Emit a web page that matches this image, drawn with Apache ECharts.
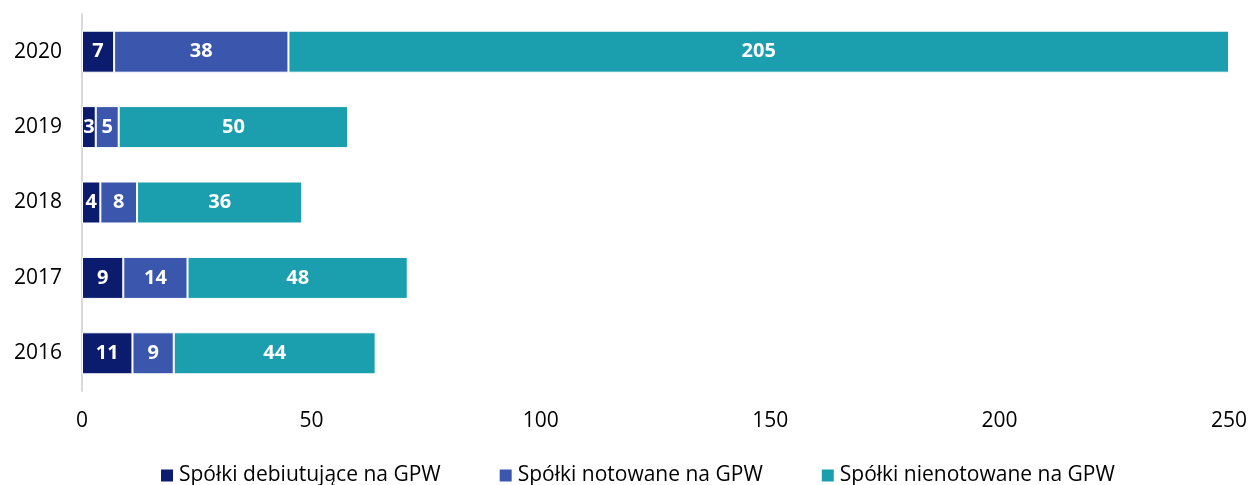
<!DOCTYPE html>
<html>
<head>
<meta charset="utf-8">
<script src="https://cdn.jsdelivr.net/npm/echarts@6/dist/echarts.min.js"></script>
<style>
  html, body { margin: 0; padding: 0; background: #fff; }
  #chart { width: 1250px; height: 485px; }
</style>
</head>
<body>
<div id="chart"></div>
<script>
const years = ['2016', '2017', '2018', '2019', '2020']
const debiutujace = [11, 9, 4, 3, 7]
const notowane = [9, 14, 8, 5, 38]
const nienotowane = [44, 48, 36, 50, 205]
const xTicks = [0, 50, 100, 150, 200, 250]

const font = '"Open Sans", "Noto Sans", sans-serif'

function barSeries(name, values, color) {
  return {
    name: name,
    type: 'bar',
    stack: 'total',
    barWidth: 42,
    data: values,
    itemStyle: { color: color, borderColor: '#fff', borderWidth: 1 },
    label: {
      show: true,
      position: 'inside',
      color: '#fff',
      fontFamily: font,
      fontWeight: 'bold',
      fontSize: 20,
    },
  }
}

const myEcharts = echarts.init(document.getElementById('chart'))
myEcharts.setOption({
  animation: false,
  grid: { left: 82, right: 20, top: 14, height: 377 },
  legend: {
    top: 460,
    left: 154,
    itemWidth: 14,
    itemHeight: 14,
    itemGap: 57,
    icon: 'rect',
    textStyle: { fontFamily: font, fontSize: 21, color: '#000' },
    data: ['Spółki debiutujące na GPW', 'Spółki notowane na GPW', 'Spółki nienotowane na GPW'],
  },
  xAxis: {
    type: 'value',
    min: xTicks[0],
    max: xTicks[xTicks.length - 1],
    interval: 50,
    axisLine: { show: false },
    axisTick: { show: false },
    splitLine: { show: false },
    axisLabel: { fontFamily: font, fontSize: 21, color: '#000', margin: 20 },
  },
  yAxis: {
    type: 'category',
    data: years,
    axisLine: { show: true, lineStyle: { color: '#d9d9d9', width: 2 } },
    axisTick: { show: false },
    axisLabel: { fontFamily: font, fontSize: 21, color: '#000', margin: 20 },
  },
  series: [
    barSeries('Spółki debiutujące na GPW', debiutujace, '#0b1c6f'),
    barSeries('Spółki notowane na GPW', notowane, '#3a57ad'),
    barSeries('Spółki nienotowane na GPW', nienotowane, '#1b9ead'),
  ],
})
</script>
</body>
</html>
